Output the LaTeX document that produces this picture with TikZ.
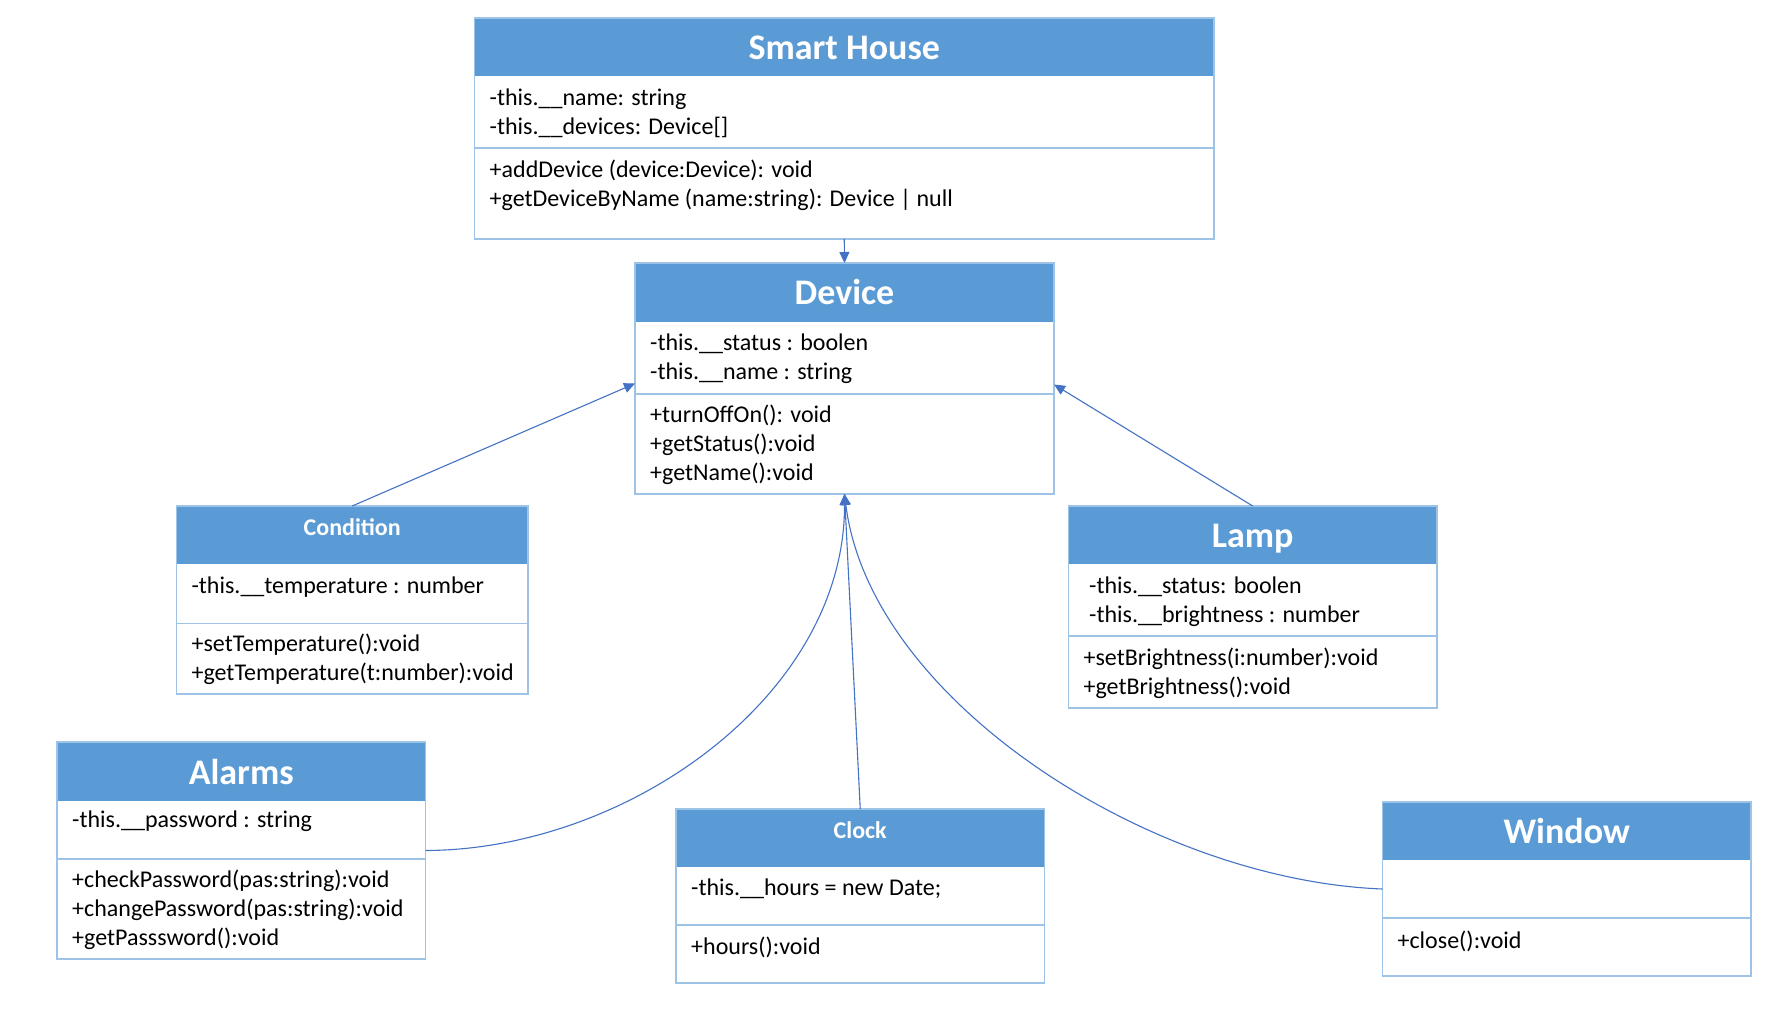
\documentclass[tikz,border=0pt]{standalone}
\usepackage{fontspec}
\setmainfont{Carlito}
\usetikzlibrary{arrows.meta,fit}
\definecolor{hdr}{HTML}{5B9BD5}
\definecolor{bordc}{HTML}{9DC3E6}
\definecolor{conn}{HTML}{4472C4}
\tikzset{
  boxst/.style={draw=bordc, line width=1.6pt, inner sep=0pt, outer sep=0pt},
  divline/.style={draw=bordc, line width=1.6pt},
  txt/.style={anchor=west, align=left, inner sep=0pt, font=\fontsize{24}{29}\selectfont},
  ttl/.style={text=white, inner sep=0pt, text height=23pt, text depth=0pt, font=\fontsize{36}{40}\selectfont\bfseries},
  ttls/.style={text=white, inner sep=0pt, text height=15.4pt, text depth=0pt, font=\fontsize{24}{28}\selectfont\bfseries},
  link/.style={draw=conn, line width=1.1pt, -{Triangle[length=11pt,width=10pt]}}
}
% name x1 y1 x2 y2 yheader ydivider
\newcommand{\umlbox}[7]{%
  \fill[hdr] (#2,#3) rectangle (#4,#6);
  \draw[divline] (#2,#7) -- (#4,#7);
  \node[boxst, fit={(#2,#3) (#4,#5)}] (#1) {};
}
\begin{document}
\begin{tikzpicture}[x=1pt,y=-1pt]
\fill[white] (0,0) rectangle (1784,1011);
\useasboundingbox (0,0) rectangle (1784,1011);

% Smart House
\umlbox{sh}{474.5}{18}{1214}{239}{76}{148}
\node[ttl] (sh-t) at (844.3,48) {Smart House};
\node[txt] (sh-a) at (489.5,113) {-this.\_\_name: string\\-this.\_\_devices: Device[]};
\node[txt] (sh-m) at (489.5,185) {+addDevice (device:Device): void\\+getDeviceByName (name:string): Device | null};

% Device
\umlbox{dev}{635}{263}{1054}{494}{322}{394}
\node[ttl] (dev-t) at (844.5,293) {Device};
\node[txt] (dev-a) at (650,358.4) {-this.\_\_status : boolen\\-this.\_\_name : string};
\node[txt] (dev-m) at (650,444.4) {+turnOffOn(): void\\+getStatus():void\\+getName():void};

% Condition
\umlbox{cond}{176.4}{506}{528}{694}{564}{623.5}
\node[ttls] (cond-t) at (352.2,528) {Condition};
\node[txt] (cond-a) at (191.4,587) {-this.\_\_temperature : number};
\node[txt] (cond-m) at (191.4,659.3) {+setTemperature():void\\+getTemperature(t:number):void};

% Lamp
\umlbox{lamp}{1068.4}{506}{1437}{708}{564}{636}
\node[ttl] (lamp-t) at (1252.7,536) {Lamp};
\node[txt] (lamp-a) at (1089,601.3) {-this.\_\_status: boolen\\-this.\_\_brightness : number};
\node[txt] (lamp-m) at (1083.4,673) {+setBrightness(i:number):void\\+getBrightness():void};

% Alarms
\umlbox{al}{57}{742}{425.5}{959}{801}{859}
\node[ttl] (al-t) at (241.2,772.6) {Alarms};
\node[txt] (al-a) at (72,821.5) {-this.\_\_password : string};
\node[txt] (al-m) at (72,909.5) {+checkPassword(pas:string):void\\+changePassword(pas:string):void\\+getPasssword():void};

% Clock
\umlbox{clk}{676}{809}{1044.5}{983}{867}{925}
\node[ttls] (clk-t) at (860.2,830.6) {Clock};
\node[txt] (clk-a) at (691,888.6) {-this.\_\_hours = new Date;};
\node[txt] (clk-m) at (691,947.8) {+hours():void};

% Window
\umlbox{win}{1382.4}{802}{1751}{976}{860}{918}
\node[ttl] (win-t) at (1566.7,831.7) {Window};
\node[txt] (win-m) at (1397.4,941) {+close():void};

% connectors
\draw[link] (sh.south) -- (dev.north);
\draw[link] (cond.north) -- ([yshift=-5pt]dev.west);
\draw[link] (lamp.north) -- ([yshift=-6pt]dev.east);
\draw[link] (clk.north) -- (dev.south);
\draw[link] (al.east) .. controls (626.7,850) and (845,696) .. (dev.south);
\draw[link] (win.west) .. controls (1150,880) and (870,700) .. (dev.south);
\end{tikzpicture}
\end{document}
